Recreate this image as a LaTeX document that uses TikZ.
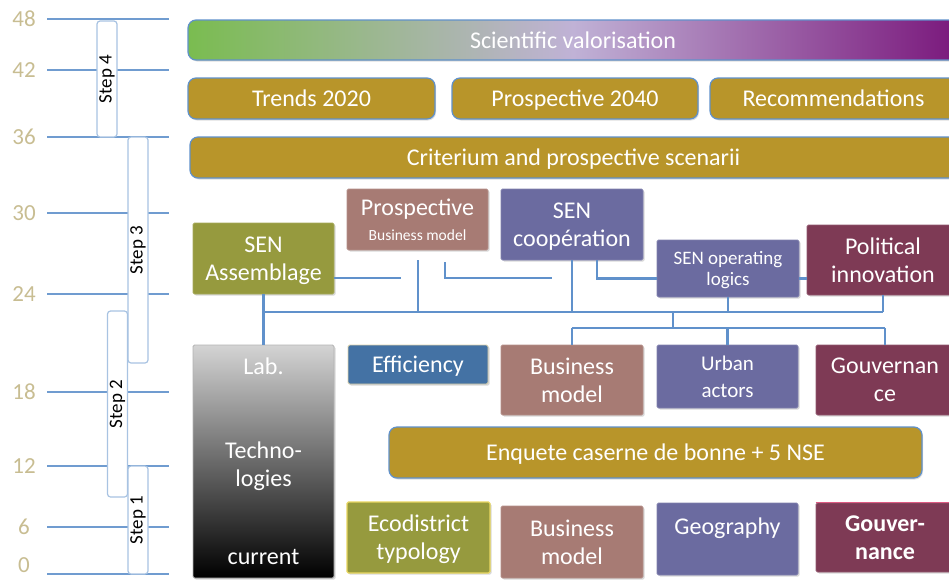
\documentclass[tikz,border=0pt]{standalone}
\usepackage{fontspec}
\setmainfont{Carlito}
\usetikzlibrary{positioning,calc,shadows}
\definecolor{gold}{RGB}{184,149,42}
\definecolor{olivebox}{RGB}{150,154,62}
\definecolor{rosebox}{RGB}{167,123,116}
\definecolor{slatebox}{RGB}{107,107,160}
\definecolor{winebox}{RGB}{126,58,85}
\definecolor{effblue}{RGB}{68,114,164}
\definecolor{linkblue}{RGB}{96,145,203}
\definecolor{ticktan}{RGB}{200,189,146}
\definecolor{valgreen}{RGB}{122,188,80}
\definecolor{vallilac}{RGB}{192,178,214}
\definecolor{valpurple}{RGB}{122,24,124}
\definecolor{ecoedge}{RGB}{232,214,96}
\definecolor{effedge}{RGB}{220,210,170}
\definecolor{pinkedge}{RGB}{222,90,130}
\tikzstyle{base} = [inner sep=0pt, align=center, text=white, text depth=0pt, font=\fontsize{24}{28}\selectfont]
\tikzstyle{gbox} = [base, fill=gold, draw=linkblue, line width=1.2pt, rounded corners=8pt, drop shadow={opacity=0.25, shadow xshift=1pt, shadow yshift=-1.5pt}]
\tikzstyle{cbox} = [base, rounded corners=1.5pt, line width=0.8pt, drop shadow={opacity=0.3, shadow xshift=1.5pt, shadow yshift=-1.5pt}]
\tikzstyle{stepbar} = [draw=linkblue!55, fill=white, line width=1.2pt, rounded corners=3pt, rotate=90, inner sep=0pt, minimum height=20pt, font=\fontsize{19}{22}\selectfont]
\tikzstyle{link} = [draw=linkblue, line width=2.6pt]
\tikzstyle{tick} = [draw=linkblue!90, line width=2.6pt]

\begin{document}
\begin{tikzpicture}[x=1pt, y=-1pt]

	\useasboundingbox (0,0) rectangle (949,581);
	\clip (0,0) rectangle (949,581);

	% time axis
	\foreach \v/\y/\ly in {48/19/19, 42/70/70, 36/137/137, 30/213/213, 24/294/294, 18/392/392, 12/466/466, 6/527/527, 0/574/565} {
		\draw[tick] (47,\y) -- (169,\y);
		\node[text=ticktan, inner sep=0pt, font=\fontsize{23}{26}\selectfont] (t\v) at (24,\ly) {\v};
	}

	\node[stepbar, minimum width=116pt] (s4) at (107,79) {Step 4};
	\node[stepbar, minimum width=226pt] (s3) at (138,250) {Step 3};
	\node[stepbar, minimum width=186pt] (s2) at (117.5,404) {Step 2};
	\node[stepbar, minimum width=108pt] (s1) at (138,520) {Step 1};

	% top rows
	\node[gbox, left color=valgreen, right color=valpurple, middle color=vallilac,
		minimum width=770pt, minimum height=40pt] (sci) at (573,40) {Scientific valorisation};
	\node[gbox, minimum width=247pt, minimum height=41pt] (trends) at (311.5,98.5) {Trends 2020};
	\node[gbox, minimum width=246pt, minimum height=41pt] (pros40) at (575,98.5) {Prospective 2040};
	\node[gbox, minimum width=247pt, minimum height=41pt] (recom) at (833.5,98.5) {Recommendations};
	\node[gbox, minimum width=767pt, minimum height=41pt] (crit) at (573.5,157.5) {Criterium and prospective scenarii};

	% SEN boxes
	\node[cbox, fill=olivebox, draw=olivebox!85!white, minimum width=141pt, minimum height=71pt] (assem) at (263.5,258.5) {SEN\\Assemblage};
	\node[cbox, fill=rosebox, draw=rosebox!85!white, minimum width=141pt, minimum height=61pt] (prosbm) at (417.5,219.5)
		{Prospective\\[-3pt]{\fontsize{15.5}{18}\selectfont Business model}};
	\node[cbox, fill=slatebox, draw=slatebox!85!white, minimum width=142pt, minimum height=71pt] (coop) at (572,224.5) {SEN\\coopération};
	\node[cbox, fill=slatebox, draw=slatebox!85!white, minimum width=142pt, minimum height=57pt,
		font=\fontsize{19}{21}\selectfont] (oplog) at (728,268.5) {SEN operating\\logics};
	\node[cbox, fill=winebox, draw=winebox!85!white, minimum width=152pt, minimum height=70pt] (polinn) at (883,260) {Political\\innovation};

	% middle row
	\node[cbox, top color=black!17, bottom color=black, draw=black!30, minimum width=141pt, minimum height=233pt] (lab) at (263.5,461.5) {};
	\node[base] (lab1) at ([yshift=-22pt]lab.north) {Lab.};
	\node[base] (lab2) at ([yshift=-2.5pt]lab.center) {Techno-\\logies};
	\node[base] (lab3) at ([yshift=21pt]lab.south) {current};
	\node[cbox, fill=effblue, draw=effedge, minimum width=140pt, minimum height=39pt] (eff) at (418,364.5) {Efficiency};
	\node[cbox, fill=rosebox, draw=rosebox!85!white, minimum width=142pt, minimum height=70pt] (bm1) at (572,380) {Business\\model};
	\node[cbox, fill=slatebox, draw=slatebox!85!white, minimum width=141pt, minimum height=63pt,
		font=\fontsize{21}{27}\selectfont] (urban) at (727.5,376.5) {Urban\\actors};
	\node[cbox, fill=winebox, draw=winebox!85!white, minimum width=138pt, minimum height=70pt] (gouv1) at (885,380) {Gouvernan\\ce};
	\node[gbox, minimum width=533pt, minimum height=51pt] (enq) at (655.5,452.5) {Enquete caserne de bonne + 5 NSE};

	% bottom row
	\node[cbox, fill=olivebox, draw=ecoedge, line width=1.2pt, minimum width=143pt, minimum height=71pt] (eco) at (418.5,537.5) {Ecodistrict\\typology};
	\node[cbox, fill=rosebox, draw=rosebox!85!white, minimum width=142pt, minimum height=72pt] (bm2) at (572,542) {Business\\model};
	\node[cbox, fill=slatebox, draw=slatebox!85!white, minimum width=141pt, minimum height=72pt] (geo) at (727.5,539) {};
	\node[base] (geo1) at ([yshift=-24pt]geo.north) {Geography};
	\node[cbox, fill=winebox, draw=winebox!85!white, minimum width=138pt, minimum height=69pt,
		font=\fontsize{24}{28}\selectfont\bfseries] (gouv2) at (885,537.5) {Gouver-\\nance};
	\draw[pinkedge, line width=1.2pt] (gouv2.north west) -- (gouv2.north east);

	% links
	\coordinate (bus) at (263,312);
	\coordinate (sub) at (673,328);
	\coordinate (c1) at (401,278);
	\coordinate (c2) at (445,262);
	\coordinate (c3) at (552,278);
	\coordinate (c4) at (418,260);

	\draw[link] (assem.south) -- (lab.north);
	\draw[link] (bus) -- (bus -| polinn.south);
	\draw[link] (assem.east |- c1) -- (c1);
	\draw[link] (c4) -- (c4 |- bus);
	\draw[link] (c2) |- (c3);
	\draw[link] (coop.south) -- (coop.south |- bus);
	\draw[link] ([xshift=25pt]coop.south) |- ([yshift=-10pt]oplog.west);
	\draw[link] ([yshift=-10pt]oplog.east) -- ([yshift=-10pt]oplog.east -| polinn.west);
	\draw[link] (oplog.south) -- (oplog.south |- bus);
	\draw[link] (polinn.south) -- (polinn.south |- bus);
	\draw[link] (sub |- bus) -- (sub);
	\draw[link] (sub -| bm1.north) -- (sub -| gouv1.north);
	\draw[link] (bm1.north) -- (bm1.north |- sub);
	\draw[link] (urban.north) -- (urban.north |- sub);
	\draw[link] (gouv1.north) -- (gouv1.north |- sub);

\end{tikzpicture}
\end{document}
